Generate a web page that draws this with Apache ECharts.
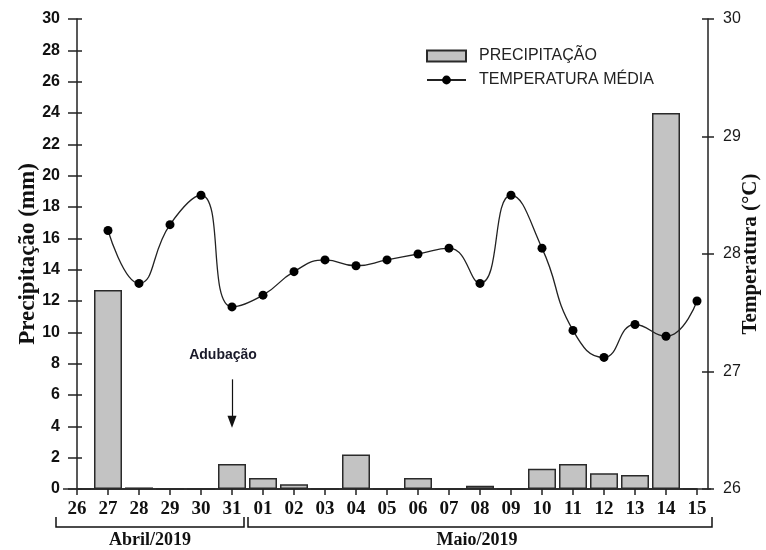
<!DOCTYPE html>
<html>
<head>
<meta charset="utf-8">
<script src="https://cdn.jsdelivr.net/npm/echarts@6/dist/echarts.min.js"></script>
<style>
  html, body { margin: 0; padding: 0; background: #fff; }
  #chart { width: 766px; height: 550px; }
</style>
</head>
<body>
<div id="chart"></div>
<script>
// Days of the observation period (26 April to 15 May 2019)
const days = ['26','27','28','29','30','31','01','02','03','04','05','06','07','08','09','10','11','12','13','14','15'];
// Daily rainfall, mm
const precipitation = [0, 12.7, 0.1, 0, 0, 1.6, 0.7, 0.3, 0, 2.2, 0, 0.7, 0, 0.2, 0, 1.3, 1.6, 1.0, 0.9, 24.0, 0];
// Mean daily air temperature, °C
const temperature = [null, 28.2, 27.75, 28.25, 28.5, 27.55, 27.65, 27.85, 27.95, 27.9, 27.95, 28.0, 28.05, 27.75, 28.5, 28.05, 27.35, 27.12, 27.4, 27.3, 27.6];
// Fertiliser application day and arrow span (mm scale)
const fertDay = '31';
const fertArrow = [7.0, 4.3];
const fertLabelAt = 8.55;

const serifBold = { fontFamily: 'Liberation Serif', fontWeight: 'bold', color: '#111' };
const ink = '#222';

const chart = echarts.init(document.getElementById('chart'));

chart.setOption({
  animation: false,
  backgroundColor: '#fff',
  grid: { left: 77, right: 69, top: 19, bottom: 61, outerBoundsMode: 'none', containLabel: false },
  legend: {
    orient: 'vertical',
    left: 426, top: 48, padding: 0,
    itemWidth: 39, itemHeight: 11, itemGap: 8,
    textStyle: { fontFamily: 'Liberation Sans', fontSize: 16, lineHeight: 16, color: '#222', padding: [0, 0, 0, 8] },
    data: [{ name: 'PRECIPITAÇÃO', icon: 'rect' }, { name: 'TEMPERATURA MÉDIA' }]
  },
  xAxis: [{
    type: 'category',
    data: days,
    boundaryGap: false,
    axisLine: { lineStyle: { color: ink, width: 1.5 } },
    axisTick: { length: 6, lineStyle: { color: ink, width: 1.5 } },
    axisLabel: Object.assign({ fontSize: 19, margin: 11 }, serifBold),
    splitLine: { show: false }
  }, {
    type: 'category',
    data: days,
    boundaryGap: false,
    position: 'top',
    axisLine: { lineStyle: { color: ink, width: 1.5 } },
    axisTick: { show: false },
    axisLabel: { show: false },
    splitLine: { show: false }
  }],
  yAxis: [{
    type: 'value', min: 0, max: 30, interval: 2, position: 'left',
    name: 'Precipitação (mm)', nameLocation: 'middle', nameGap: 37, nameRotate: 90,
    nameMoveOverlap: false,
    nameTextStyle: Object.assign({ fontSize: 23 }, serifBold),
    axisLine: { show: true, lineStyle: { color: ink, width: 1.5 } },
    axisTick: { show: true, length: 9, lineStyle: { color: ink, width: 1.5 } },
    axisLabel: { fontFamily: 'Liberation Sans', fontWeight: 'bold', fontSize: 16, color: '#111', margin: 17 },
    splitLine: { show: false }
  }, {
    type: 'value', min: 26, max: 30, interval: 1, position: 'right', offset: 11,
    name: 'Temperatura (°C)', nameLocation: 'middle', nameGap: 32, nameRotate: 90,
    nameMoveOverlap: false,
    nameTextStyle: Object.assign({ fontSize: 21 }, serifBold),
    axisLine: { show: true, lineStyle: { color: ink, width: 1.5 } },
    axisTick: { show: true, length: 6, lineStyle: { color: ink, width: 1.5 } },
    axisLabel: { fontFamily: 'Liberation Sans', fontSize: 16, color: '#1a1a1a', margin: 15 },
    splitLine: { show: false }
  }, {
    // inner half of the left crossing ticks
    type: 'value', min: 0, max: 30, interval: 2, position: 'left',
    axisLine: { show: false },
    axisTick: { show: true, inside: true, length: 5, lineStyle: { color: ink, width: 1.5 } },
    axisLabel: { show: false },
    splitLine: { show: false }
  }, {
    // inner half of the right crossing ticks
    type: 'value', min: 26, max: 30, interval: 1, position: 'right', offset: 11,
    axisLine: { show: false },
    axisTick: { show: true, inside: true, length: 6, lineStyle: { color: ink, width: 1.5 } },
    axisLabel: { show: false },
    splitLine: { show: false }
  }],
  series: [{
    name: 'PRECIPITAÇÃO',
    type: 'bar',
    data: precipitation,
    barWidth: 28,
    itemStyle: { color: '#c3c3c3', borderColor: '#2a2a2a', borderWidth: 1.5 },
    z: 2,
    markLine: {
      silent: true,
      symbol: ['none', 'triangle'],
      symbolSize: [9, 12],
      lineStyle: { color: '#111', width: 1.2, type: 'solid' },
      label: { show: false },
      data: [[{ coord: [fertDay, fertArrow[0]] }, { coord: [fertDay, fertArrow[1]] }]]
    },
    markPoint: {
      silent: true,
      symbol: 'circle', symbolSize: 0,
      label: {
        show: true, position: 'inside', offset: [-9, 0],
        formatter: 'Adubação',
        fontFamily: 'Liberation Sans', fontWeight: 'bold', fontSize: 14, color: '#1a1a2a'
      },
      data: [{ coord: [fertDay, fertLabelAt] }]
    }
  }, {
    name: 'TEMPERATURA MÉDIA',
    type: 'line',
    yAxisIndex: 1,
    data: temperature,
    smooth: 0.5,
    symbol: 'circle',
    symbolSize: 9,
    itemStyle: { color: '#000' },
    lineStyle: { color: '#222', width: 1.3 },
    z: 3
  }]
});

// Month brackets under the day labels
function bracket(x1, x2, y) {
  return {
    type: 'polyline',
    shape: { points: [[x1, y - 10], [x1, y], [x2, y], [x2, y - 10]] },
    style: { stroke: '#111', lineWidth: 1.5, fill: null }
  };
}
const xA = chart.convertToPixel({ xAxisIndex: 0 }, days[0]);
const xB = chart.convertToPixel({ xAxisIndex: 0 }, days[5]);
const xC = chart.convertToPixel({ xAxisIndex: 0 }, days[6]);
const xD = chart.convertToPixel({ xAxisIndex: 0 }, days[days.length - 1]);
const yB = 527;
chart.setOption({
  graphic: [
    bracket(xA - 21, xB + 12, yB),
    bracket(xC - 15, xD + 15, yB),
    {
      type: 'text', x: (xA - 21 + xB + 12) / 2, y: 540,
      style: { text: 'Abril/2019', align: 'center', verticalAlign: 'middle',
               font: 'bold 18px "Liberation Serif"', fill: '#111' }
    },
    {
      type: 'text', x: (xC - 15 + xD + 15) / 2 - 3, y: 540,
      style: { text: 'Maio/2019', align: 'center', verticalAlign: 'middle',
               font: 'bold 18px "Liberation Serif"', fill: '#111' }
    }
  ]
});
</script>
</body>
</html>
